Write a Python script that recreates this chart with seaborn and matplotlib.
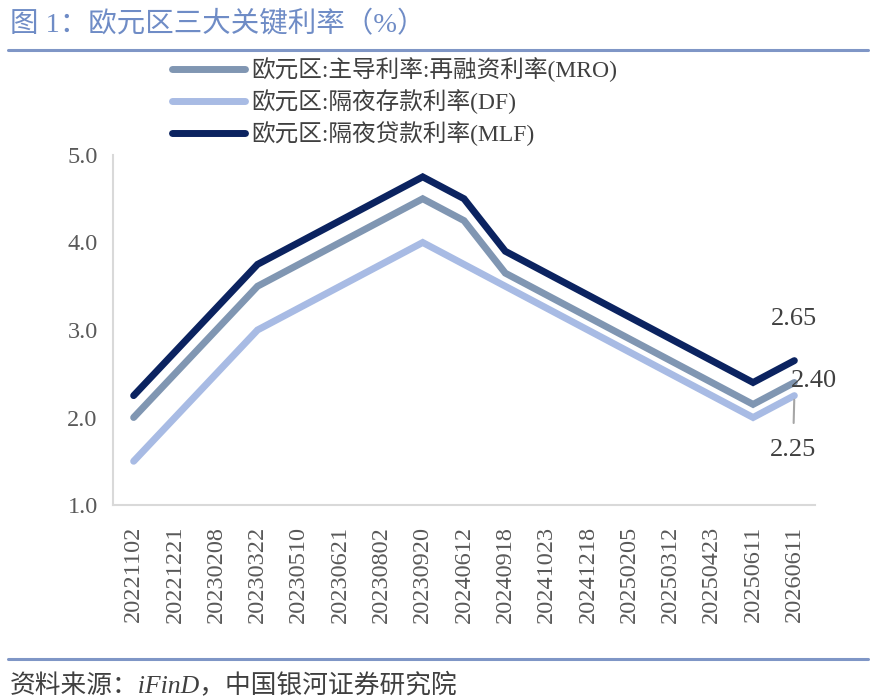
import matplotlib
matplotlib.use("Agg")
import matplotlib.pyplot as plt
from matplotlib.lines import Line2D
import seaborn as sns
import pandas as pd

dates = ["20221102", "20221221", "20230208", "20230322", "20230510", "20230621",
         "20230802", "20230920", "20240612", "20240918", "20241023", "20241218",
         "20250205", "20250312", "20250423", "20250611", "20260611"]
mro = [2.00, 2.50, 3.00, 3.50, 3.75, 4.00, 4.25, 4.50, 4.25, 3.65, 3.40, 3.15,
       2.90, 2.65, 2.40, 2.15, 2.40]
df_rate = [1.50, 2.00, 2.50, 3.00, 3.25, 3.50, 3.75, 4.00, 3.75, 3.50, 3.25, 3.00,
           2.75, 2.50, 2.25, 2.00, 2.25]
mlf = [2.25, 2.75, 3.25, 3.75, 4.00, 4.25, 4.50, 4.75, 4.50, 3.90, 3.65, 3.40,
       3.15, 2.90, 2.65, 2.40, 2.65]
series_names = ["欧元区:主导利率:再融资利率(MRO)", "欧元区:隔夜存款利率(DF)", "欧元区:隔夜贷款利率(MLF)"]
colors = ["#8096B2", "#A8BBE4", "#0B2360"]
yticks = [1.0, 2.0, 3.0, 4.0, 5.0]

sns.set_theme(style="white")
plt.rcParams["font.family"] = ["Liberation Serif", "Noto Sans CJK SC"]
plt.rcParams["axes.unicode_minus"] = False

rows = []
for name, vals in zip(series_names, [mro, df_rate, mlf]):
    for d, v in zip(dates, vals):
        rows.append({"date": d, "value": v, "series": name})
data = pd.DataFrame(rows)

fig = plt.figure(figsize=(8.74, 6.98), dpi=100)
ax = fig.add_axes([113/874, 1-505/698, (815-113)/874, (505-155)/698])

sns.lineplot(data=data, x="date", y="value", hue="series", hue_order=series_names,
             palette=dict(zip(series_names, colors)), linewidth=5,
             solid_capstyle="round", solid_joinstyle="miter", sort=False, ax=ax)

ax.set_xlim(-0.5, len(dates) - 0.5)
ax.set_ylim(1.0, 5.0)
ax.set_yticks(yticks)
ax.set_yticklabels([f"{t:.1f}" for t in yticks])
ax.set_xlabel("")
ax.set_ylabel("")
ax.tick_params(axis="x", labelrotation=90, length=0, pad=15, labelsize=17.5, colors="#595959")
ax.tick_params(axis="y", length=0, pad=11, labelsize=17.5, colors="#595959")
for s in ["top", "right"]:
    ax.spines[s].set_visible(False)
for s in ["left", "bottom"]:
    ax.spines[s].set_color("#D9D9D9")
    ax.spines[s].set_linewidth(1.5)
ax.grid(False)

leg = ax.legend(loc="upper left", bbox_to_anchor=(172/874, 1-57/698),
                bbox_transform=fig.transFigure, frameon=False, fontsize=17,
                handlelength=3.1, handletextpad=0.25, labelspacing=0.3,
                borderpad=0, borderaxespad=0)
for t in leg.get_texts():
    t.set_color("#404040")

last = len(dates) - 1
ax.annotate(f"{mlf[-1]:.2f}", xy=(last, mlf[-1]), xytext=(0, 30), textcoords="offset points",
            ha="center", va="center", fontsize=19, color="#404040")
ax.annotate(f"{mro[-1]:.2f}", xy=(last, mro[-1]), xytext=(14, 1), textcoords="offset points",
            ha="center", va="center", fontsize=19, color="#404040")
ax.annotate(f"{df_rate[-1]:.2f}", xy=(last, df_rate[-1]), xytext=(-1, -39), textcoords="offset points",
            ha="center", va="center", fontsize=19, color="#404040",
            arrowprops=dict(arrowstyle="-", color="#A6A6A6", lw=1.5, shrinkA=9, shrinkB=3))

fig.text(10/874, 1-25/698, "图 1：欧元区三大关键利率（%）", fontsize=20.5, color="#6F8CC6",
         va="center", ha="left")
fig.add_artist(Line2D([8/874, 868/874], [1-50/698, 1-50/698], color="#7F96C6", lw=2.2))
fig.add_artist(Line2D([8/874, 868/874], [1-659/698, 1-659/698], color="#7F96C6", lw=2.2))
fig.text(10/874, 1-686/698, "资料来源：iFinD，中国银河证券研究院", fontsize=18.5, style="italic",
         color="#404040", va="center", ha="left")

fig.savefig("out.png", dpi=100)
